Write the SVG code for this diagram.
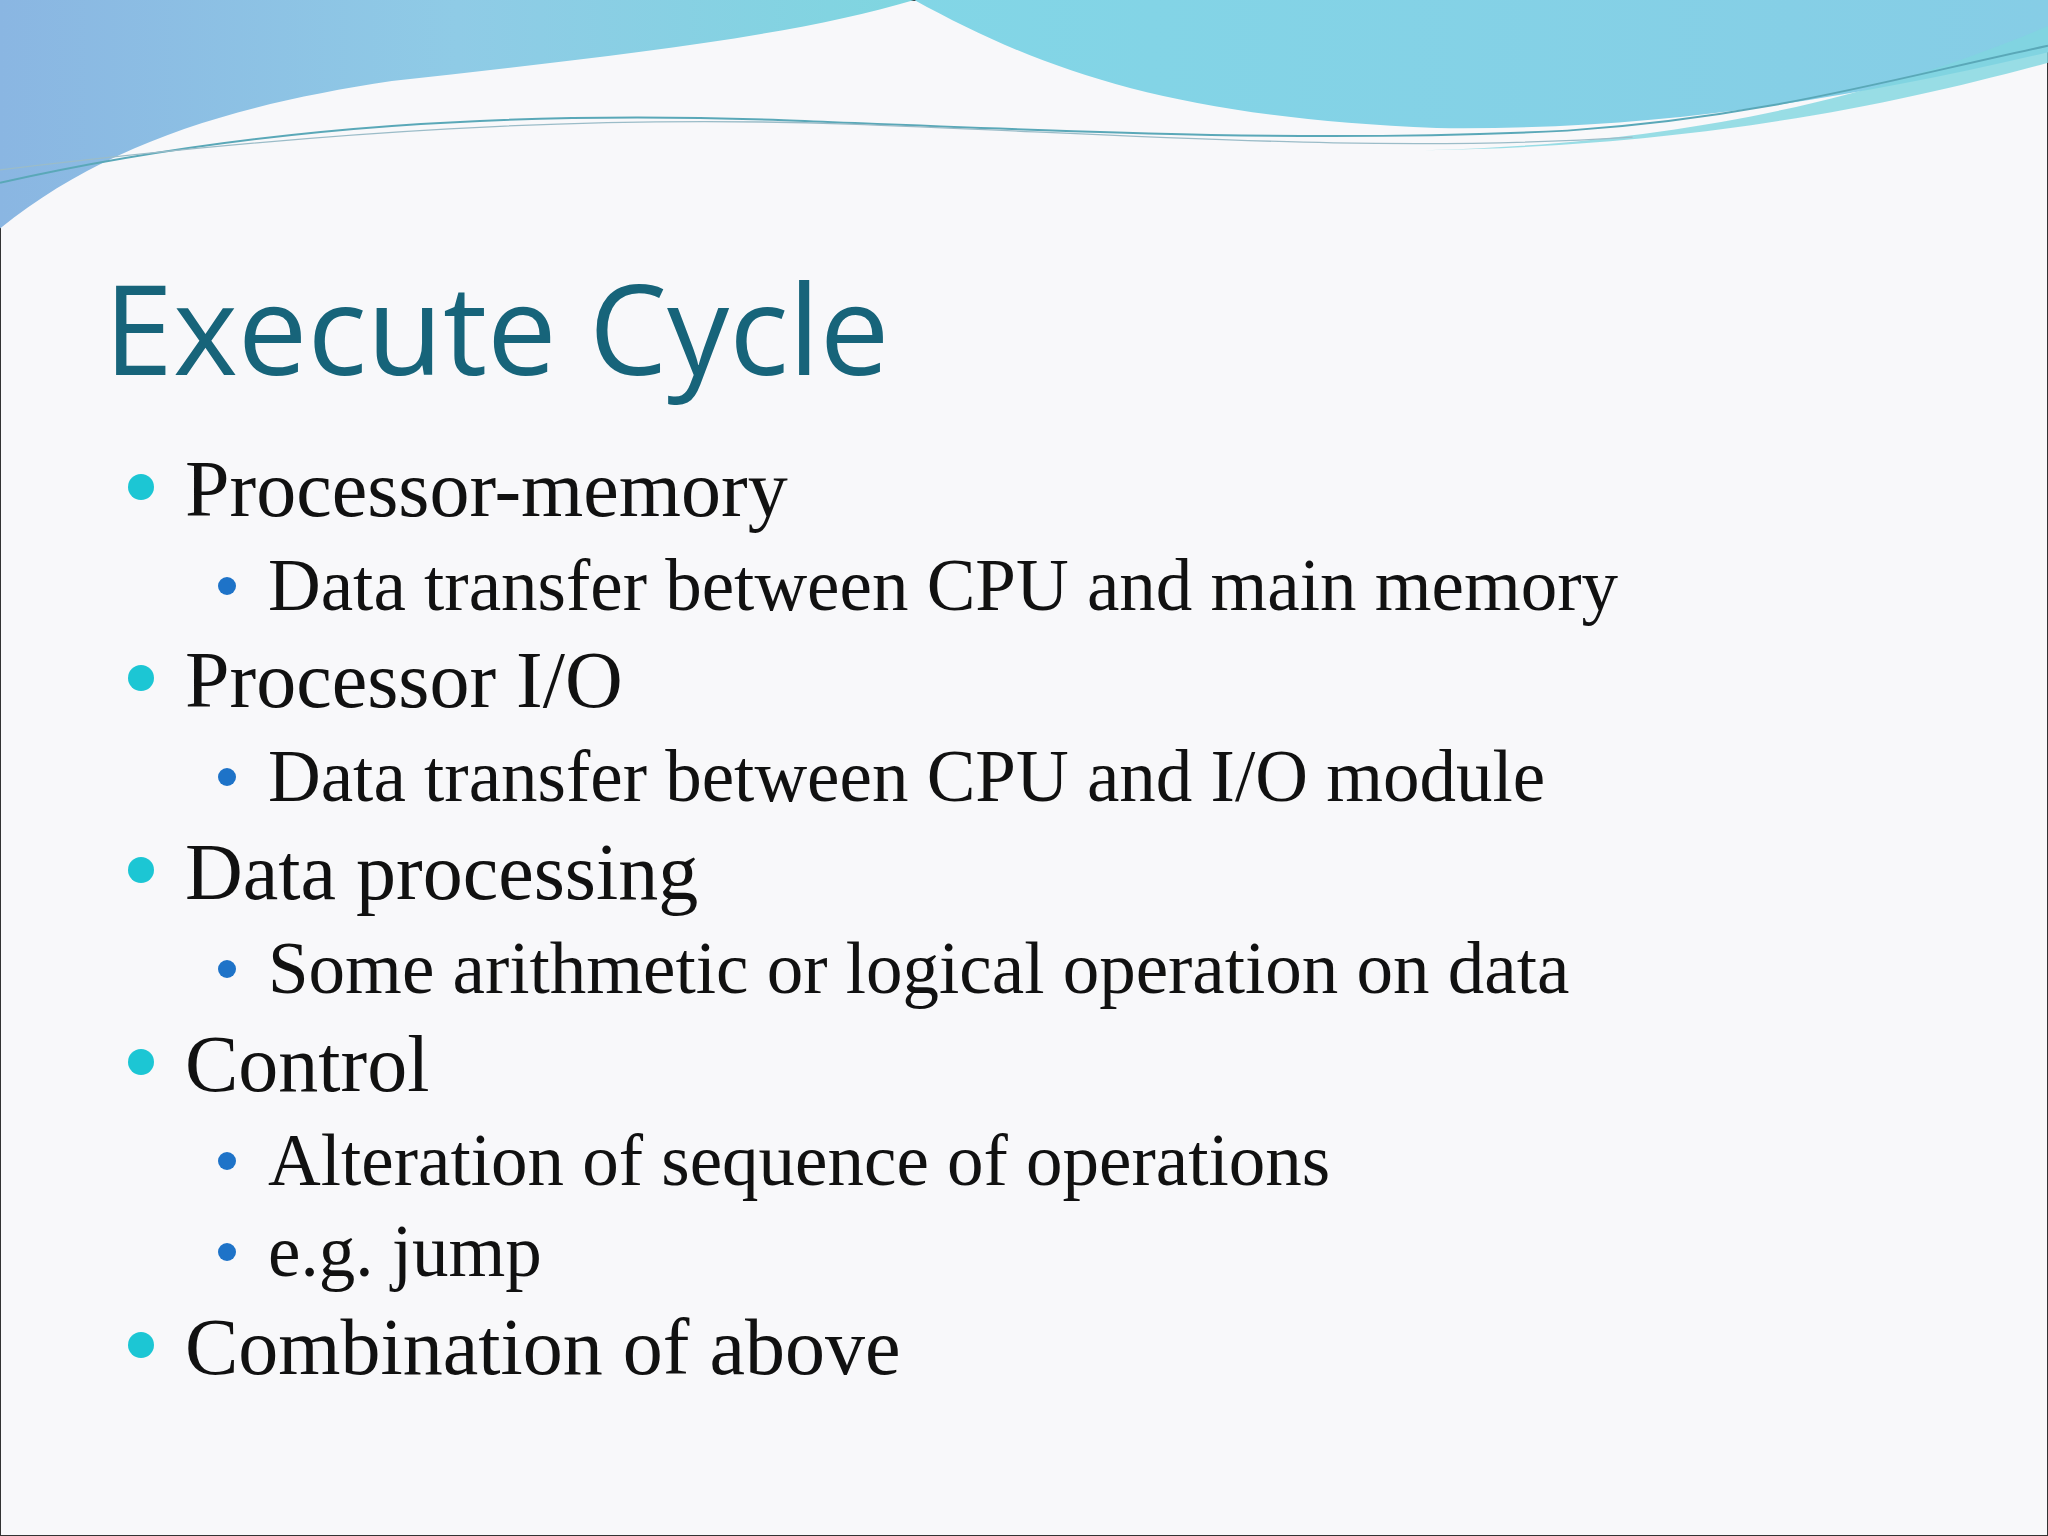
<svg xmlns="http://www.w3.org/2000/svg" width="2048" height="1536" viewBox="0 0 2048 1536">
<defs>
<linearGradient id="g1" x1="0" y1="0" x2="1" y2="0">
<stop offset="0" stop-color="#8ab6e2"/><stop offset="0.5" stop-color="#8fcbe6"/><stop offset="1" stop-color="#7fd6e0"/>
</linearGradient>
<linearGradient id="g2" x1="0" y1="0" x2="1" y2="0">
<stop offset="0" stop-color="#7fdde6"/><stop offset="1" stop-color="#86cde6"/>
</linearGradient>
<style>
.t1{font-family:"Liberation Serif","DejaVu Serif",serif;font-size:80px;fill:#111}
.t2{font-family:"Liberation Serif","DejaVu Serif",serif;font-size:73px;fill:#111}
.d1{fill:#1cc6d4}.d2{fill:#1e73c8}
</style>
</defs>
<rect width="2048" height="1536" fill="#f8f8fa" stroke="#333" stroke-width="2"/>
<g id="header" transform="scale(1.30612)">
<path d="M0,0 H1568 V40 C1400,80 1250,100 1100,98 C900,90 800,55 700,0 Z" fill="url(#g2)"/>
<path d="M0,0 H700 C600,30 450,45 300,62 C180,80 80,110 0,175 Z" fill="url(#g1)"/>
<path d="M1090,115 C1300,110 1450,70 1568,20 V48 C1450,80 1300,112 1090,115 Z" fill="#7fd6e0" opacity="0.8"/>
<path d="M0,140 C200,95 400,85 600,92 C800,100 1000,110 1200,100 C1350,90 1450,60 1568,35" fill="none" stroke="#5aa8b8" stroke-width="1.5"/>
<path d="M0,130 C250,100 450,88 650,95 C850,102 1050,118 1250,105" fill="none" stroke="#9bbcc8" stroke-width="1"/>
</g>
<text id="title" x="104" y="375" font-family="'Open Sans','Liberation Sans',sans-serif" font-size="124" fill="#17647a">Execute Cycle</text>
<g id="bullets">
<circle class="d1" cx="141" cy="487" r="13"/><text class="t1" x="185" y="516">Processor-memory</text>
<circle class="d2" cx="227" cy="586" r="9"/><text class="t2" x="268" y="610">Data transfer between CPU and main memory</text>
<circle class="d1" cx="141" cy="678" r="13"/><text class="t1" x="185" y="707">Processor I/O</text>
<circle class="d2" cx="227" cy="777" r="9"/><text class="t2" x="268" y="801">Data transfer between CPU and I/O module</text>
<circle class="d1" cx="141" cy="870" r="13"/><text class="t1" x="185" y="899">Data processing</text>
<circle class="d2" cx="227" cy="969" r="9"/><text class="t2" x="268" y="993">Some arithmetic or logical operation on data</text>
<circle class="d1" cx="141" cy="1062" r="13"/><text class="t1" x="185" y="1091">Control</text>
<circle class="d2" cx="227" cy="1161" r="9"/><text class="t2" x="268" y="1185">Alteration of sequence of operations</text>
<circle class="d2" cx="227" cy="1252" r="9"/><text class="t2" x="268" y="1276">e.g. jump</text>
<circle class="d1" cx="141" cy="1345" r="13"/><text class="t1" x="185" y="1374">Combination of above</text>
</g>
</svg>
